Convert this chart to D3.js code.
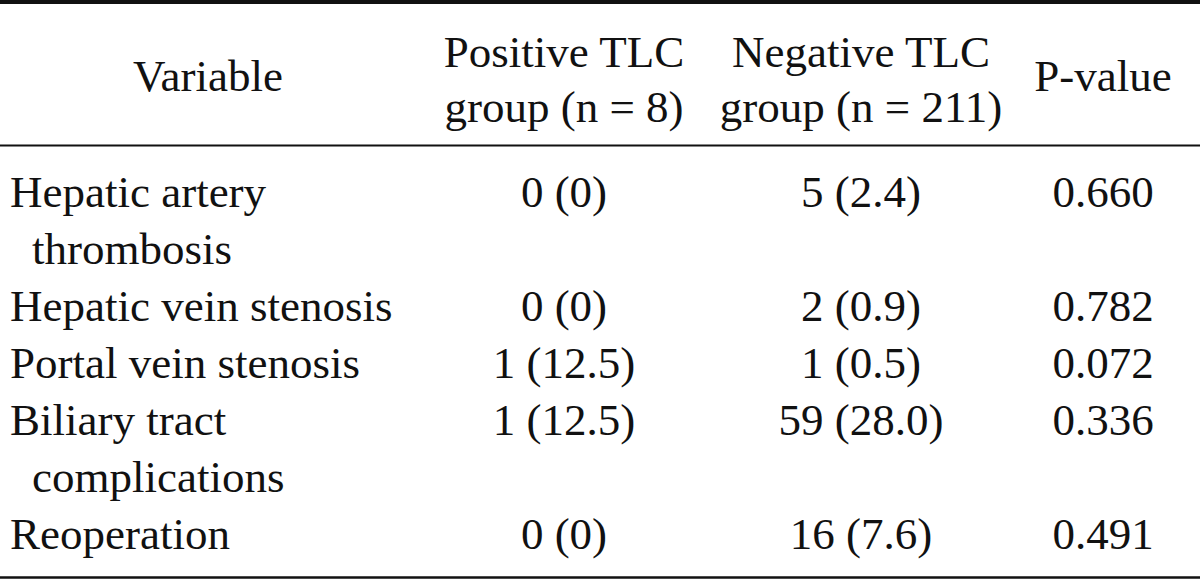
<!DOCTYPE html>
<html>
<head>
<meta charset="utf-8">
<script src="https://cdn.jsdelivr.net/npm/d3@7"></script>
<style>
  html, body { margin: 0; padding: 0; background: #fff; }
  svg { display: block; }
  text { font-family: "Liberation Serif", "Times New Roman", serif; fill: #111; }
</style>
</head>
<body>
<svg id="chart" width="1200" height="579"></svg>
<script>
// ---- data ----
const columns = ["Variable", "Positive TLC group (n = 8)", "Negative TLC group (n = 211)", "P-value"];
const headerLines = [["Variable"], ["Positive TLC", "group (n = 8)"], ["Negative TLC", "group (n = 211)"], ["P-value"]];
const variables = ["Hepatic artery thrombosis", "Hepatic vein stenosis", "Portal vein stenosis", "Biliary tract complications", "Reoperation"];
const variableLines = [["Hepatic artery", "thrombosis"], ["Hepatic vein stenosis"], ["Portal vein stenosis"], ["Biliary tract", "complications"], ["Reoperation"]];
const positiveTLC = ["0 (0)", "0 (0)", "1 (12.5)", "1 (12.5)", "0 (0)"];
const negativeTLC = ["5 (2.4)", "2 (0.9)", "1 (0.5)", "59 (28.0)", "16 (7.6)"];
const pValues = ["0.660", "0.782", "0.072", "0.336", "0.491"];

// ---- layout ----
const W = 1200, H = 579, FS = 45;
const svg = d3.select("#chart");

const colX = d3.scaleOrdinal().domain(columns).range([10, 564, 861, 1103]);
const colAnchor = d3.scaleOrdinal().domain(columns).range(["middle", "middle", "middle", "middle"]);
const headerCenterX = d3.scaleOrdinal().domain(columns).range([208, 564, 861, 1103]);

// line index -> baseline
const totalLines = d3.sum(variableLines, d => d.length);
const lineY = d3.scaleLinear().domain([0, totalLines - 1]).range([207, 549]);
const headerY = d3.scaleLinear().domain([0, 1]).range([67, 122]);

// rules
svg.append("line").attr("x1", 0).attr("x2", W).attr("y1", 2).attr("y2", 2)
  .attr("stroke", "#111").attr("stroke-width", 4);
svg.append("line").attr("x1", 0).attr("x2", W).attr("y1", 145.5).attr("y2", 145.5)
  .attr("stroke", "#111").attr("stroke-width", 2);
svg.append("line").attr("x1", 0).attr("x2", W).attr("y1", 577.5).attr("y2", 577.5)
  .attr("stroke", "#111").attr("stroke-width", 2.5);

// header
const hdr = svg.append("g");
columns.forEach((c, i) => {
  const lines = headerLines[i];
  lines.forEach((ln, j) => {
    const y = lines.length === 1 ? 91 : headerY(j);
    hdr.append("text")
      .attr("x", headerCenterX(c)).attr("y", y)
      .attr("text-anchor", "middle")
      .attr("font-size", FS)
      .text(ln);
  });
});

// body
const body = svg.append("g");
let idx = 0;
variables.forEach((v, i) => {
  const first = idx;
  variableLines[i].forEach((ln, j) => {
    body.append("text")
      .attr("x", j === 0 ? colX(columns[0]) : colX(columns[0]) + 22)
      .attr("y", lineY(idx))
      .attr("font-size", FS)
      .text(ln);
    idx++;
  });
  [positiveTLC[i], negativeTLC[i], pValues[i]].forEach((val, k) => {
    const c = columns[k + 1];
    body.append("text")
      .attr("x", colX(c)).attr("y", lineY(first))
      .attr("text-anchor", colAnchor(c))
      .attr("font-size", FS)
      .text(val);
  });
});
</script>
</body>
</html>
